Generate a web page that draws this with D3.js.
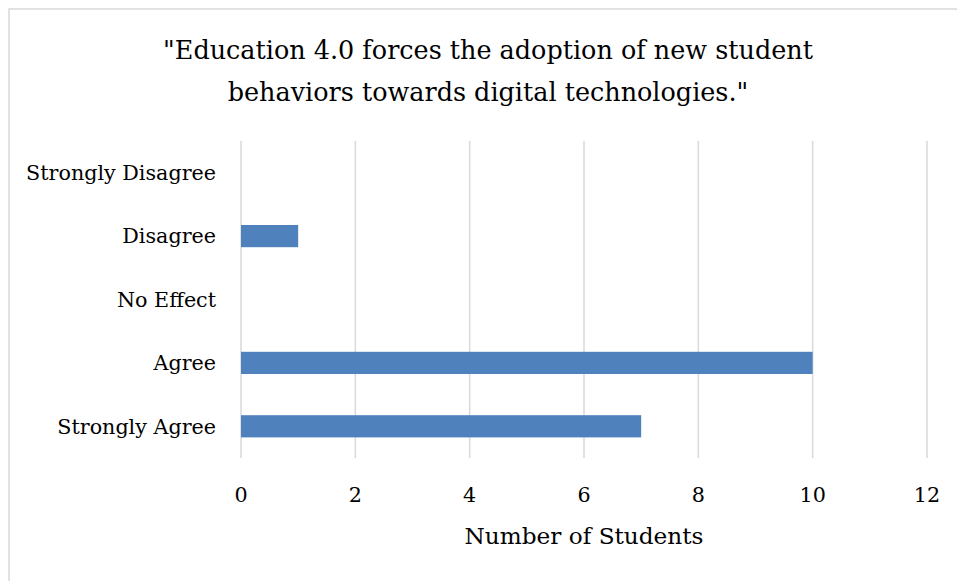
<!DOCTYPE html>
<html><head><meta charset="utf-8">
<script src="https://cdn.jsdelivr.net/npm/d3@7"></script>
<style>body{margin:0;background:#fff}svg{display:block}</style>
</head><body>
<script>
const categories = ["Strongly Disagree","Disagree","No Effect","Agree","Strongly Agree"];
const values = [0,1,0,10,7];
const tickValues = [0,2,4,6,8,10,12];
const titleLines = ["\"Education 4.0 forces the adoption of new student","behaviors towards digital technologies.\""];
const xTitle = "Number of Students";

const W=957,H=581;
const font = "'DejaVu Serif',serif";
const svg=d3.select("body").append("svg").attr("width",W).attr("height",H);
svg.append("rect").attr("width",W).attr("height",H).attr("fill","#fff");
svg.append("rect").attr("x",9).attr("y",9).attr("width",W+10).attr("height",H+10)
  .attr("fill","none").attr("stroke","#d9d9d9").attr("stroke-width",1.5);

function fitSize(text, target){
  const t=svg.append("text").attr("font-family",font).attr("font-size",100).text(text);
  const w=t.node().getComputedTextLength(); t.remove();
  return 100*target/w;
}
const titleSize=fitSize(titleLines[0],650);
const catSize=fitSize(categories[0],190);
const axSize=fitSize(xTitle,239);

const x=d3.scaleLinear().domain([0,12]).range([241,927]);
const y=d3.scaleBand().domain(categories).range([141,458]).paddingInner(0.65).paddingOuter(0.325);

svg.append("g").selectAll("line").data(tickValues).join("line")
  .attr("x1",d=>x(d)).attr("x2",d=>x(d)).attr("y1",141).attr("y2",458)
  .attr("stroke","#d9d9d9").attr("stroke-width",1.5);

svg.append("g").selectAll("rect").data(values).join("rect")
  .attr("x",x(0)).attr("y",(d,i)=>y(categories[i]))
  .attr("width",d=>x(d)-x(0)).attr("height",y.bandwidth())
  .attr("fill","#4F81BD");

svg.append("g").selectAll("text").data(categories).join("text")
  .attr("x",216).attr("y",d=>y(d)+y.bandwidth()/2).attr("dy","0.35em")
  .attr("text-anchor","end").attr("font-family",font).attr("font-size",catSize).attr("fill","#000")
  .text(d=>d);

svg.append("g").selectAll("text").data(tickValues).join("text")
  .attr("x",d=>x(d)).attr("y",502).attr("text-anchor","middle")
  .attr("font-family",font).attr("font-size",catSize).attr("fill","#000").text(d=>d);

svg.append("text").attr("x",584).attr("y",544).attr("text-anchor","middle")
  .attr("font-family",font).attr("font-size",axSize).attr("fill","#000").text(xTitle);

svg.append("g").selectAll("text").data(titleLines).join("text")
  .attr("x",488).attr("y",(d,i)=>59+i*42).attr("text-anchor","middle")
  .attr("font-family",font).attr("font-size",titleSize).attr("fill","#000").text(d=>d);
</script>
</body></html>
